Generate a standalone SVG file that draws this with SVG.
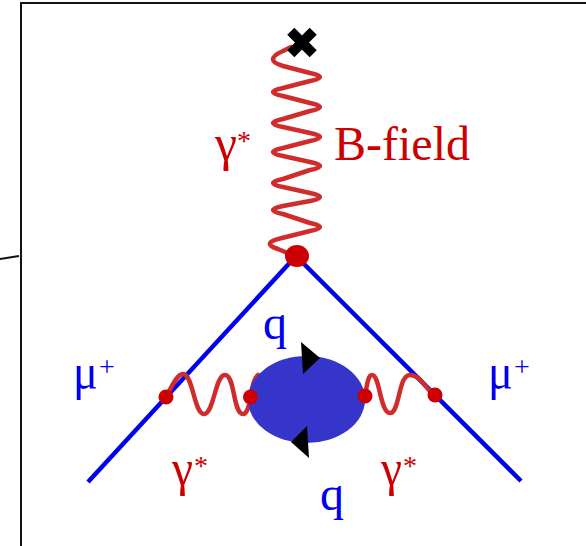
<svg xmlns="http://www.w3.org/2000/svg" width="586" height="546" viewBox="0 0 586 546">
<style>
.frame{fill:none;stroke:#111;stroke-width:2}
.lep{fill:none;stroke:#0000ee;stroke-width:4.500}
.wig{fill:none;stroke:#d02c2c;stroke-width:4.500;stroke-linecap:round;stroke-linejoin:round}
.dot{fill:#cc0000}
.t{font-family:"Liberation Serif","Times New Roman",serif}
.r{fill:#cc0000}.b{fill:#0000ee}
.g{font-size:50px}.s{font-size:28px}.q{font-size:48px}
</style>
<rect width="586" height="546" fill="#fff"/>
<g id="frame"><path class="frame" d="M21 546V3H586"/><path class="frame" d="M0 259L19 256" stroke-width="1.500"/></g>
<g id="connectors">
<path class="lep" d="M296 256L88 482"/>
<path class="lep" d="M296 256L521 481"/>
<path class="wig" d="M291 47L283 51Q263 60 283 66L310 73Q330 77 310 81L283 88Q263 92 283 96L310 103Q330 107 310 111L283 119Q263 123 283 127L310 133Q330 137 310 141L283 148Q263 152 283 156L310 162Q330 166 310 170L283 179Q263 183 283 187L310 193Q330 197 310 201L283 206Q263 210 283 214L310 223Q330 227 310 231L282 238Q260 243 278 249L290 254"/>
<path class="wig" d="M166 397C172 386 177 374 183 374C193 374 194 414 204 414C214 414 215 375 225 375C235 375 233 414 243 414C247 414 249 406 251 397C252 386 254 378 258 375"/>
<path class="wig" d="M365 396C367 385 368 375 372 375C380 375 380 413 390 413C400 413 398 375 410 375C420 375 425 388 434 395"/>
</g>
<g id="quark-loop">
<ellipse cx="306.500" cy="399.500" rx="58.500" ry="43.500" fill="#3535cc"/>
<path d="M301 342L320 358L303 374Z"/>
<path d="M307 426L291 442L309 458Z"/>
</g>
<g id="vertices">
<ellipse class="dot" cx="297" cy="256" rx="12" ry="11"/>
<circle class="dot" cx="166" cy="397" r="7.500"/>
<circle class="dot" cx="250.500" cy="397" r="7.500"/>
<circle class="dot" cx="365" cy="396" r="7.500"/>
<circle class="dot" cx="435" cy="395" r="7.500"/>
</g>
<g id="cross"><path d="M292 32L312 52M312 32L292 52" stroke="#000" stroke-width="9" fill="none" transform="translate(302 42.500) scale(1.120) translate(-302 -42)"/></g>
<g id="labels">
<text class="t r" x="334" y="160" font-size="48">B-field</text>
<text class="t r g" x="215" y="160" textLength="22" lengthAdjust="spacingAndGlyphs">γ</text><text class="t r s" x="237" y="150">*</text>
<text class="t r g" x="172" y="485" textLength="21" lengthAdjust="spacingAndGlyphs">γ</text><text class="t r s" x="194" y="475">*</text>
<text class="t r g" x="381" y="485" textLength="21" lengthAdjust="spacingAndGlyphs">γ</text><text class="t r s" x="403" y="475">*</text>
<text class="t b g" x="73" y="389" textLength="25" lengthAdjust="spacingAndGlyphs">μ</text><text class="t b s" x="99" y="376">+</text>
<text class="t b g" x="488" y="389" textLength="25" lengthAdjust="spacingAndGlyphs">μ</text><text class="t b s" x="514" y="376">+</text>
<text class="t b q" x="263" y="339">q</text>
<text class="t b q" x="320" y="510">q</text>
</g>
</svg>
